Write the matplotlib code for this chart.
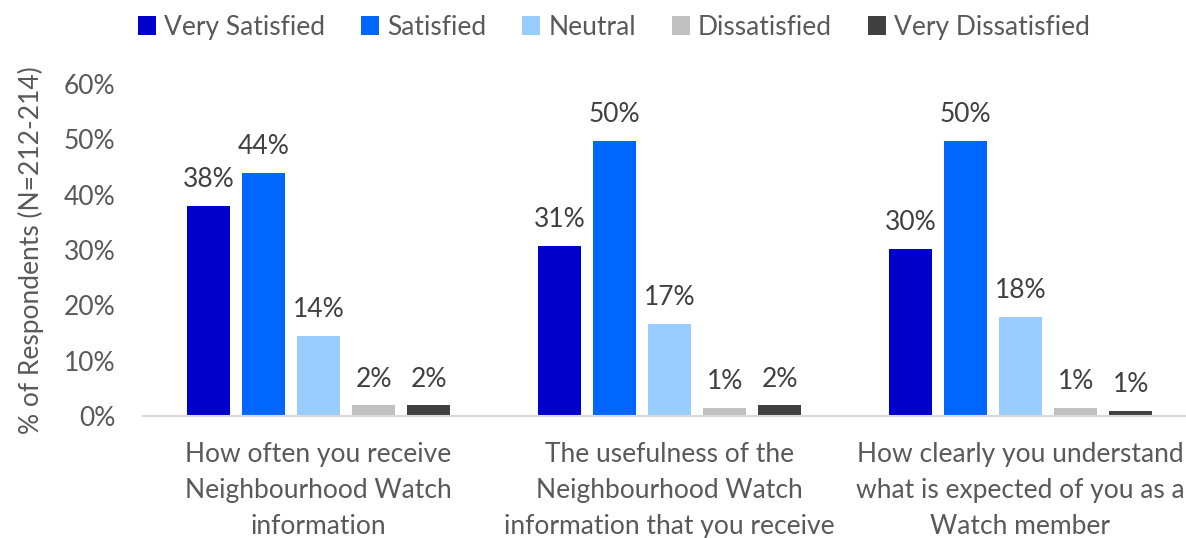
import matplotlib.pyplot as plt
import numpy as np

plt.rcParams['font.family'] = ['Lato', 'DejaVu Sans']

categories = [
    "How often you receive\nNeighbourhood Watch\ninformation",
    "The usefulness of the\nNeighbourhood Watch\ninformation that you receive",
    "How clearly you understand\nwhat is expected of you as a\nWatch member",
]
series_names = ["Very Satisfied", "Satisfied", "Neutral", "Dissatisfied", "Very Dissatisfied"]
very_satisfied = [38.0, 30.8, 30.2]
satisfied = [43.9, 49.7, 49.7]
neutral = [14.4, 16.6, 17.9]
dissatisfied = [1.9, 1.4, 1.4]
very_dissatisfied = [1.9, 1.9, 0.9]
colors = ["#0000CC", "#0066FF", "#99CCFF", "#C0C0C0", "#404040"]

text_color = "#595959"
fs = 19

fig = plt.figure(figsize=(11.86, 5.38), dpi=100)
ax = fig.add_axes([143 / 1186, 1 - 416 / 538, 1053 / 1186, 332 / 538])

x = np.arange(len(categories))
width = 0.1225
pitch = 0.157
all_series = [very_satisfied, satisfied, neutral, dissatisfied, very_dissatisfied]

for i, (name, vals, c) in enumerate(zip(series_names, all_series, colors)):
    pos = x + (i - 2) * pitch
    bars = ax.bar(pos, vals, width, color=c, label=name)
    for b, v in zip(bars, vals):
        ax.text(b.get_x() + b.get_width() / 2, v + 2.5, f"{v:.0f}%",
                ha="center", va="bottom", fontsize=fs, color="#404040")

ax.set_xlim(-0.5, 2.5)
ax.set_ylim(0, 60)
ax.set_yticks(range(0, 61, 10))
ax.set_yticklabels([f"{t}%" for t in range(0, 61, 10)])
ax.set_xticks(x)
ax.set_xticklabels(categories, linespacing=1.55)
ax.tick_params(axis="y", length=0, labelsize=fs, labelcolor=text_color, pad=20)
ax.tick_params(axis="x", length=0, labelsize=fs, labelcolor=text_color, pad=19)

for s in ["top", "right", "left"]:
    ax.spines[s].set_visible(False)
ax.spines["bottom"].set_color("#D9D9D9")
ax.spines["bottom"].set_linewidth(1.5)

ax.set_ylabel("% of Respondents (N=212-214)", fontsize=fs, color=text_color, labelpad=14)

fig.legend(loc="upper left", bbox_to_anchor=(114 / 1186, 1.017), ncol=5, frameon=False,
           fontsize=fs, labelcolor=text_color, handlelength=0.7, handleheight=0.7,
           handletextpad=0.3, columnspacing=1.35)

fig.savefig("out.png", dpi=100)
